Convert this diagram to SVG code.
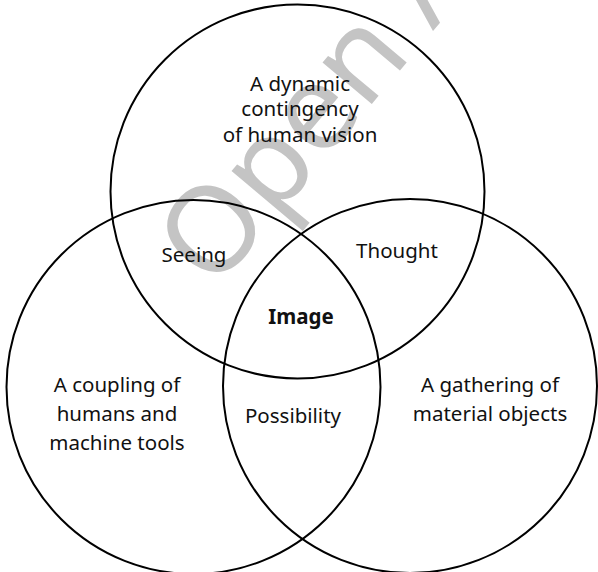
<svg xmlns="http://www.w3.org/2000/svg" width="598" height="572" viewBox="0 0 598 572">
<style>
.c{fill:none;stroke:#000;stroke-width:2}
.t{font-family:"Noto Sans","Open Sans",sans-serif;font-size:20.5px;fill:#111;text-anchor:middle}
.b{font-weight:bold}
.w{font-family:"Noto Sans","Open Sans",sans-serif;font-size:120px;fill:#c4c4c4}
</style>
<rect width="598" height="572" fill="#fff"/>
<text class="w" x="214" y="292" transform="rotate(-50 214 292)">Open A</text>
<g id="connectors"></g>
<g id="vision"><circle class="c" cx="297.5" cy="191.5" r="187"/>
<text class="t"><tspan x="300" y="91">A dynamic</tspan><tspan x="300" y="116">contingency</tspan><tspan x="300" y="142">of human vision</tspan></text></g>
<g id="tools"><circle class="c" cx="193.5" cy="387" r="187"/>
<text class="t"><tspan x="117" y="392">A coupling of</tspan><tspan x="117" y="421">humans and</tspan><tspan x="117" y="450">machine tools</tspan></text></g>
<g id="objects"><circle class="c" cx="410" cy="386" r="187"/>
<text class="t"><tspan x="490" y="392">A gathering of</tspan><tspan x="490" y="421">material objects</tspan></text></g>
<g id="seeing"><text class="t" x="194" y="262">Seeing</text></g>
<g id="thought"><text class="t" x="397" y="258">Thought</text></g>
<g id="image"><text class="t b" x="301" y="324">Image</text></g>
<g id="possibility"><text class="t" x="293" y="423">Possibility</text></g>
</svg>
